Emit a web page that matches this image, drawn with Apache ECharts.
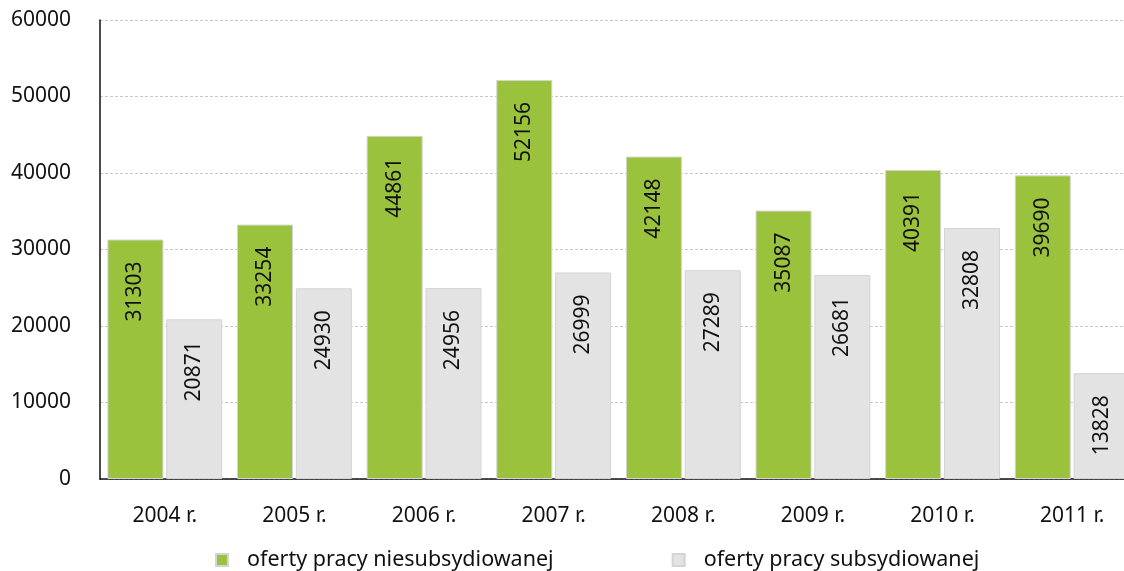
<!DOCTYPE html>
<html>
<head>
<meta charset="utf-8">
<script src="https://cdn.jsdelivr.net/npm/echarts@6/dist/echarts.min.js"></script>
<style>html,body{margin:0;padding:0;background:#fff}#c{width:1124px;height:571px}</style>
</head>
<body>
<div id="c"></div>
<script>
const categories = ['2004 r.', '2005 r.', '2006 r.', '2007 r.', '2008 r.', '2009 r.', '2010 r.', '2011 r.'];
const seriesNames = ['oferty pracy niesubsydiowanej', 'oferty pracy subsydiowanej'];
const unsubsidized = [31303, 33254, 44861, 52156, 42148, 35087, 40391, 39690];
const subsidized = [20871, 24930, 24956, 26999, 27289, 26681, 32808, 13828];

const FONT = 'Noto Sans';
const chart = echarts.init(document.getElementById('c'), null, {renderer: 'canvas'});
const labelCfg = {
  show: true,
  position: ['50%', 22],
  rotate: 90,
  align: 'right',
  verticalAlign: 'middle',
  color: '#111',
  fontSize: 21,
  fontFamily: FONT
};
chart.setOption({
  animation: false,
  textStyle: {fontFamily: FONT},
  grid: {left: 100, width: 1037, top: 20, bottom: 92, containLabel: false, outerBoundsMode: 'none'},
  legend: {
    top: 544,
    left: 210,
    itemWidth: 12,
    itemHeight: 12,
    itemGap: 118,
    icon: 'rect',
    textStyle: {fontSize: 21.5, color: '#111', fontFamily: FONT, padding: [0, 0, 0, 14]},
    data: seriesNames
  },
  xAxis: {
    type: 'category',
    data: categories,
    axisLine: {lineStyle: {color: '#111', width: 1.5}},
    axisTick: {show: false},
    axisLabel: {fontSize: 21, color: '#111', margin: 27, fontFamily: FONT}
  },
  yAxis: {
    type: 'value',
    min: 0,
    max: 60000,
    interval: 10000,
    axisLine: {show: true, lineStyle: {color: '#111', width: 1.5}},
    axisTick: {show: false},
    axisLabel: {fontSize: 21, color: '#111', margin: 29, fontFamily: FONT, formatter: function (v) { return String(v); }},
    splitLine: {lineStyle: {color: '#c8c8c8', type: [3, 2], width: 1}}
  },
  series: [
    {
      name: seriesNames[0],
      type: 'bar',
      data: unsubsidized,
      barWidth: 56,
      barGap: '5%',
      itemStyle: {color: '#9bc23c', borderColor: '#d4d4d4', borderWidth: 1},
      label: labelCfg
    },
    {
      name: seriesNames[1],
      type: 'bar',
      data: subsidized,
      barWidth: 56,
      barGap: '5%',
      itemStyle: {color: '#e3e3e3', borderColor: '#d4d4d4', borderWidth: 1},
      label: labelCfg
    }
  ]
});
</script>
</body>
</html>
